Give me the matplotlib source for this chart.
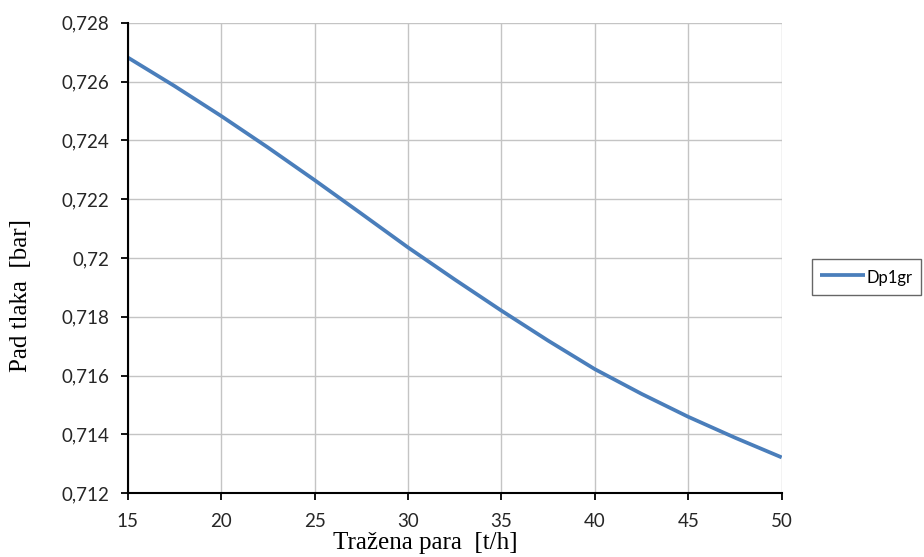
import matplotlib
matplotlib.use("Agg")
from matplotlib import pyplot as plt

# Data
para = [15, 17.5, 20, 22.5, 25, 27.5, 30, 32.5, 35, 37.5, 40, 42.5, 45, 47.5, 50]
dp1gr = [0.72682, 0.72585, 0.72483, 0.72376, 0.72265, 0.72151, 0.72036, 0.71927,
         0.71821, 0.71719, 0.71622, 0.71538, 0.71460, 0.71389, 0.71322]

xticks = [15, 20, 25, 30, 35, 40, 45, 50]
yticks = [0.712, 0.714, 0.716, 0.718, 0.720, 0.722, 0.724, 0.726, 0.728]
ytick_labels = ['0,712', '0,714', '0,716', '0,718', '0,72', '0,722', '0,724', '0,726', '0,728']

fig = plt.figure(figsize=(9.24, 5.57), dpi=100)
ax = fig.add_axes([0.1382, 0.1144, 0.7078, 0.8448])

ax.plot(para, dp1gr, color='#4a7ebb', linewidth=2.7, label='Dp1gr',
        solid_capstyle='butt')

ax.set_xlim(15, 50)
ax.set_ylim(0.712, 0.728)
ax.set_xticks(xticks)
ax.set_yticks(yticks)
ax.set_yticklabels(ytick_labels)

ax.grid(True, color='#c4c4c4', linewidth=1.0)
ax.set_axisbelow(True)

for s in ['top', 'right']:
    ax.spines[s].set_visible(False)
for s in ['left', 'bottom']:
    ax.spines[s].set_linewidth(1.5)
    ax.spines[s].set_color('black')

ax.tick_params(direction='out', length=5, width=1.3, color='black',
               labelsize=13.5, labelcolor='#262626')
ax.tick_params(axis='y', pad=8.5)
ax.tick_params(axis='x', pad=9.5)
for lab in ax.get_xticklabels() + ax.get_yticklabels():
    lab.set_family('Lato')

ax.set_xlabel('Tražena para  [t/h]', family='Liberation Serif', fontsize=18)
ax.set_ylabel('Pad tlaka  [bar]', family='Liberation Serif', fontsize=18)
ax.xaxis.set_label_coords(0.4546, -0.083)
ax.yaxis.set_label_coords(-0.1463, 0.421)

leg = ax.legend(loc='center left', bbox_to_anchor=(811.7 / 924, 1 - 277 / 557),
                bbox_transform=fig.transFigure, frameon=True, fancybox=False,
                handlelength=2.7, handleheight=1.4, handletextpad=0.1,
                borderpad=0.5, borderaxespad=0,
                prop={'family': 'Lato', 'size': 12})
leg.get_frame().set_edgecolor('#404040')
leg.get_frame().set_linewidth(1.0)

plt.savefig('out.png', dpi=100)
plt.close()
